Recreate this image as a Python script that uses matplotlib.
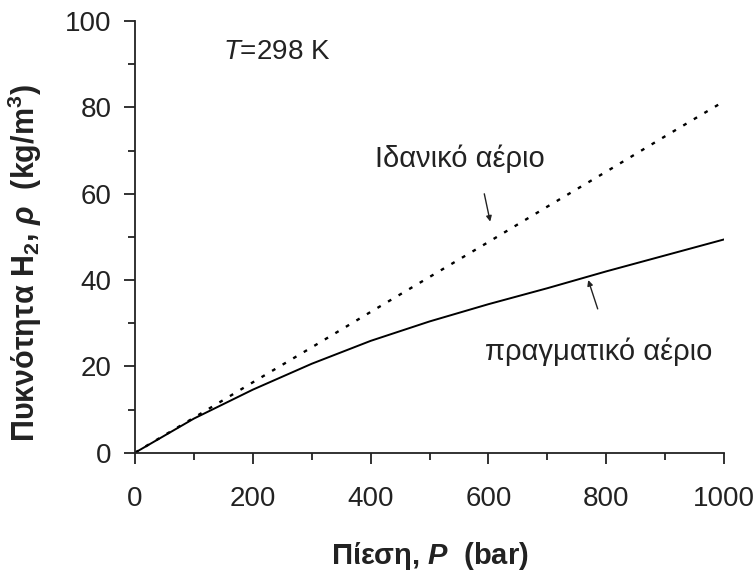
import matplotlib
matplotlib.use("Agg")
import matplotlib.pyplot as plt

plt.rcParams['font.family'] = ['Liberation Sans', 'DejaVu Sans']
plt.rcParams['mathtext.fontset'] = 'custom'
plt.rcParams['mathtext.rm'] = 'Liberation Sans'
plt.rcParams['mathtext.it'] = 'Liberation Sans:italic'
plt.rcParams['mathtext.bf'] = 'Liberation Sans:bold'
plt.rcParams['mathtext.bfit'] = 'Liberation Sans:bold:italic'

# pressure (bar) and H2 density (kg/m3) at 298 K
pressure = [0, 100, 200, 300, 400, 500, 600, 700, 800, 900, 1000]
ideal_gas = [0, 8.1, 16.3, 24.4, 32.6, 40.7, 48.8, 57.0, 65.1, 73.3, 81.4]
real_gas = [0, 7.9, 14.6, 20.6, 25.9, 30.4, 34.4, 38.1, 42.0, 45.7, 49.4]

fig = plt.figure(figsize=(7.56, 5.76), dpi=100)
ax = fig.add_axes([0.1786, 0.2141, 0.7791, 0.7494])

ax.plot(pressure, ideal_gas, color='black', lw=1.7, linestyle=(0, (1.6, 3.6)))
ax.plot(pressure, real_gas, color='black', lw=1.4)

ax.set_xlim(0, 1000)
ax.set_ylim(0, 100)
ax.set_xticks(range(0, 1001, 200))
ax.set_xticks(range(100, 1000, 200), minor=True)
ax.set_yticks(range(0, 101, 20))
ax.set_yticks(range(10, 100, 20), minor=True)
ax.tick_params(which='major', length=8, width=1.3, labelsize=20, color='#222222', labelcolor='#222222')
ax.tick_params(which='minor', length=5, width=1.3, color='#222222')
ax.tick_params(axis='x', which='major', pad=16)
ax.tick_params(axis='y', which='major', pad=9)
for s in ['top', 'right']:
    ax.spines[s].set_visible(False)
for s in ['left', 'bottom']:
    ax.spines[s].set_linewidth(1.3)
    ax.spines[s].set_color('#222222')

ax.set_xlabel(r'Πίεση, $\mathbfit{P}$  (bar)', fontsize=21, fontweight='bold', labelpad=20, color='#222222')
ax.set_ylabel(r'Πυκνότητα H$_\mathbf{2}$, $\mathbfit{\rho}$  (kg/m$^\mathbf{3}$)',
              fontsize=22, fontweight='bold', color='#222222')
ax.yaxis.set_label_coords(-0.155, 0.44)

ax.text(149, 92.8, r'$\mathit{T}$=298 K', fontsize=20, va='center', ha='left', color='#222222')
ax.text(552, 68, 'Ιδανικό αέριο', fontsize=21, va='center', ha='center', color='#222222')
ax.text(787, 23.4, 'πραγματικό αέριο', fontsize=21, va='center', ha='center', color='#222222')

ax.annotate('', xy=(604, 52.9), xytext=(592, 60.6),
            arrowprops=dict(arrowstyle='-|>', color='#222222', lw=1, mutation_scale=8))
ax.annotate('', xy=(768, 40.6), xytext=(787, 32.7),
            arrowprops=dict(arrowstyle='-|>', color='#222222', lw=1, mutation_scale=8))

fig.savefig('out.png', dpi=100)
